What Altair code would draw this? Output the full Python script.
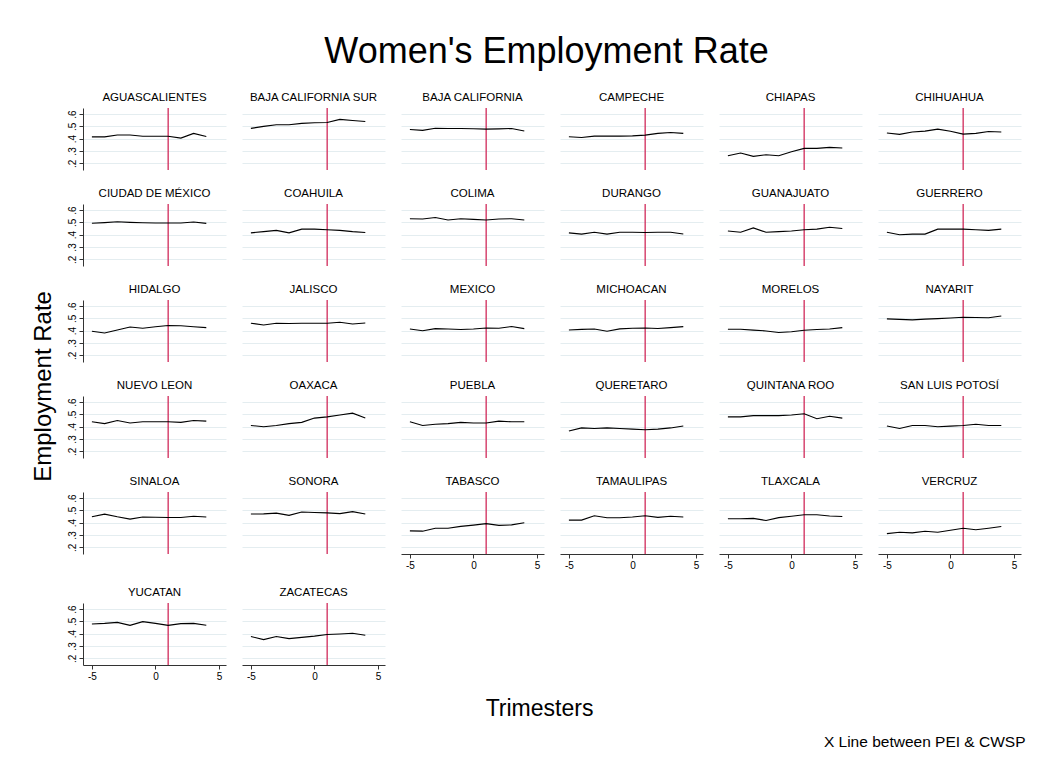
import altair as alt
import pandas as pd

FONT = "Liberation Sans"
RED = "#d02a5a"
GRID = "#e4edf0"

trimesters = [-5, -4, -3, -2, -1, 0, 1, 2, 3, 4]
event_line = [1]
y_ticks = [0.2, 0.3, 0.4, 0.5, 0.6]
x_ticks = [-5, 0, 5]

aguascalientes = [0.415, 0.415, 0.43, 0.43, 0.42, 0.42, 0.42, 0.405, 0.443, 0.418]
baja_california_sur = [0.484, 0.50, 0.513, 0.513, 0.525, 0.53, 0.532, 0.557, 0.548, 0.54]
baja_california = [0.475, 0.468, 0.485, 0.483, 0.483, 0.481, 0.478, 0.480, 0.483, 0.462]
campeche = [0.416, 0.410, 0.421, 0.421, 0.421, 0.423, 0.429, 0.443, 0.451, 0.443]
chiapas = [0.261, 0.283, 0.256, 0.269, 0.261, 0.294, 0.321, 0.321, 0.329, 0.324]
chihuahua = [0.446, 0.435, 0.455, 0.462, 0.478, 0.46, 0.437, 0.443, 0.459, 0.454]
ciudad_de_mexico = [0.493, 0.498, 0.505, 0.50, 0.497, 0.495, 0.495, 0.495, 0.503, 0.492]
coahuila = [0.415, 0.425, 0.435, 0.415, 0.445, 0.445, 0.44, 0.435, 0.425, 0.418]
colima = [0.53, 0.528, 0.54, 0.52, 0.53, 0.525, 0.52, 0.528, 0.53, 0.52]
durango = [0.415, 0.405, 0.42, 0.405, 0.42, 0.42, 0.418, 0.42, 0.42, 0.405]
guanajuato = [0.43, 0.42, 0.455, 0.42, 0.425, 0.43, 0.44, 0.445, 0.46, 0.45]
guerrero = [0.42, 0.40, 0.405, 0.405, 0.445, 0.445, 0.445, 0.44, 0.435, 0.445]
hidalgo = [0.395, 0.381, 0.405, 0.43, 0.42, 0.432, 0.442, 0.44, 0.432, 0.425]
jalisco = [0.461, 0.447, 0.461, 0.458, 0.461, 0.461, 0.461, 0.469, 0.455, 0.463]
mexico = [0.414, 0.40, 0.417, 0.414, 0.41, 0.414, 0.422, 0.42, 0.434, 0.417]
michoacan = [0.406, 0.411, 0.414, 0.395, 0.415, 0.42, 0.422, 0.418, 0.425, 0.433]
morelos = [0.412, 0.412, 0.405, 0.398, 0.385, 0.392, 0.403, 0.41, 0.414, 0.425]
nayarit = [0.496, 0.492, 0.488, 0.494, 0.498, 0.503, 0.51, 0.507, 0.505, 0.52]
nuevo_leon = [0.44, 0.425, 0.45, 0.43, 0.44, 0.44, 0.44, 0.435, 0.45, 0.445]
oaxaca = [0.41, 0.40, 0.41, 0.425, 0.435, 0.47, 0.48, 0.495, 0.51, 0.47]
puebla = [0.44, 0.41, 0.42, 0.425, 0.435, 0.43, 0.43, 0.445, 0.44, 0.44]
queretaro = [0.365, 0.39, 0.385, 0.39, 0.385, 0.38, 0.375, 0.38, 0.39, 0.405]
quintana_roo = [0.48, 0.48, 0.49, 0.49, 0.49, 0.495, 0.505, 0.465, 0.485, 0.47]
san_luis_potosi = [0.405, 0.385, 0.41, 0.41, 0.40, 0.405, 0.41, 0.42, 0.41, 0.41]
sinaloa = [0.448, 0.47, 0.448, 0.429, 0.446, 0.444, 0.442, 0.442, 0.452, 0.446]
sonora = [0.471, 0.472, 0.478, 0.46, 0.487, 0.483, 0.48, 0.474, 0.49, 0.471]
tabasco = [0.333, 0.331, 0.355, 0.355, 0.37, 0.38, 0.392, 0.378, 0.382, 0.399]
tamaulipas = [0.421, 0.421, 0.457, 0.44, 0.44, 0.446, 0.457, 0.443, 0.452, 0.446]
tlaxcala = [0.432, 0.432, 0.435, 0.418, 0.441, 0.452, 0.465, 0.465, 0.454, 0.451]
vercruz = [0.311, 0.322, 0.317, 0.33, 0.322, 0.338, 0.355, 0.343, 0.355, 0.369]
yucatan = [0.479, 0.484, 0.492, 0.468, 0.498, 0.484, 0.468, 0.482, 0.484, 0.469]
zacatecas = [0.377, 0.352, 0.377, 0.36, 0.37, 0.38, 0.393, 0.398, 0.404, 0.387]

states = [
    "AGUASCALIENTES", "BAJA CALIFORNIA SUR", "BAJA CALIFORNIA", "CAMPECHE", "CHIAPAS", "CHIHUAHUA",
    "CIUDAD DE MÉXICO", "COAHUILA", "COLIMA", "DURANGO", "GUANAJUATO", "GUERRERO",
    "HIDALGO", "JALISCO", "MEXICO", "MICHOACAN", "MORELOS", "NAYARIT",
    "NUEVO LEON", "OAXACA", "PUEBLA", "QUERETARO", "QUINTANA ROO", "SAN LUIS POTOSÍ",
    "SINALOA", "SONORA", "TABASCO", "TAMAULIPAS", "TLAXCALA", "VERCRUZ",
    "YUCATAN", "ZACATECAS",
]
series = [
    aguascalientes, baja_california_sur, baja_california, campeche, chiapas, chihuahua,
    ciudad_de_mexico, coahuila, colima, durango, guanajuato, guerrero,
    hidalgo, jalisco, mexico, michoacan, morelos, nayarit,
    nuevo_leon, oaxaca, puebla, queretaro, quintana_roo, san_luis_potosi,
    sinaloa, sonora, tabasco, tamaulipas, tlaxcala, vercruz,
    yucatan, zacatecas,
]

NCOL = 6
PW, PH = 143, 62
x_scale = alt.Scale(domain=[-5.7, 5.55], nice=False, zero=False)
y_scale = alt.Scale(domain=[0.145, 0.65], nice=False, zero=False)
n = len(states)
nrows = (n + NCOL - 1) // NCOL


def panel(i):
    row, col = divmod(i, NCOL)
    below = i + NCOL
    show_x = below >= n
    show_y = col == 0
    df = pd.DataFrame({"t": trimesters, "rate": series[i]})
    ev = pd.DataFrame({"t": event_line})
    if show_x:
        xax = alt.Axis(values=x_ticks, grid=False, title=None, labelAngle=0,
                       tickSize=4, labelFontSize=10, labelPadding=2,
                       domainColor="#333333", tickColor="#333333", labelColor="#000000",
                       labelExpr="'' + datum.value")
    else:
        xax = None
    yax = alt.Axis(values=y_ticks, grid=True, gridColor=GRID, gridWidth=1, title=None,
                   domain=show_y, ticks=show_y, labels=show_y,
                   domainColor="#333333", tickColor="#333333", tickSize=4,
                   labelAngle=270, labelAlign="center", labelBaseline="bottom",
                   labelPadding=2, labelFontSize=10, labelColor="#000000",
                   labelExpr="replace(format(datum.value, '.1f'), '0.', '.')")
    rule = alt.Chart(ev).mark_rule(color=RED, strokeWidth=1.3).encode(
        x=alt.X("t:Q", scale=x_scale, axis=xax)
    )
    line = alt.Chart(df).mark_line(color="#000000", strokeWidth=1.1).encode(
        x=alt.X("t:Q", scale=x_scale, axis=xax),
        y=alt.Y("rate:Q", scale=y_scale, axis=yax),
    )
    return alt.layer(rule, line).properties(
        width=PW, height=PH,
        title=alt.TitleParams(states[i], fontSize=11.5, font=FONT, fontWeight="normal",
                              color="#000000", offset=4, anchor="middle"),
    )


rows = []
for r in range(nrows):
    rows.append(alt.hconcat(*[panel(i) for i in range(r * NCOL, min(n, (r + 1) * NCOL))], spacing=14))

grid = alt.vconcat(*rows, spacing=15).properties(
    title=alt.TitleParams("Employment Rate", orient="left", anchor="middle", fontSize=24,
                          font=FONT, fontWeight="normal", color="#000000", offset=11)
)
with_x = alt.vconcat(grid).properties(
    title=alt.TitleParams("Trimesters", orient="bottom", anchor="middle", fontSize=23,
                          font=FONT, fontWeight="normal", color="#000000", offset=16, dx=13)
)
with_note = alt.vconcat(with_x).properties(
    title=alt.TitleParams("X Line between PEI & CWSP", orient="bottom", anchor="end", fontSize=15.5,
                          font=FONT, fontWeight="normal", color="#000000", offset=14, dx=4)
)
chart = alt.vconcat(with_note).properties(
    title=alt.TitleParams("Women's Employment Rate", anchor="middle", fontSize=36,
                          font=FONT, fontWeight="normal", color="#000000", offset=20, dx=18),
    padding={"left": 23, "top": 26, "right": 5, "bottom": 5},
    background="white",
).configure_view(stroke="transparent").configure_axis(labelFont=FONT).configure_title(font=FONT)

chart.save("out.html", embed_options={"renderer": "svg", "actions": False})
